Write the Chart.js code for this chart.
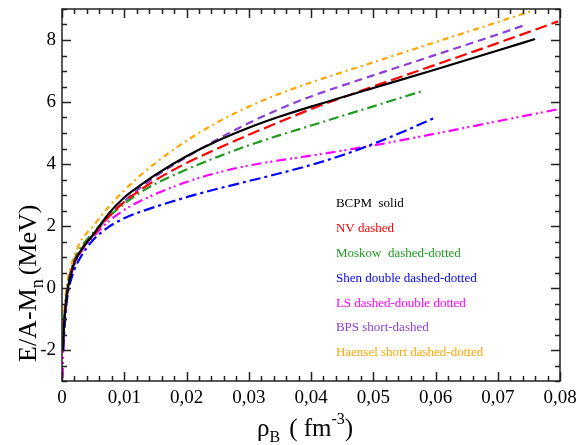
<!DOCTYPE html>
<html>
<head>
<meta charset="utf-8">
<script src="https://cdn.jsdelivr.net/npm/chart.js@4/dist/chart.umd.min.js"></script>
<style>
  html, body { margin: 0; padding: 0; background: #fff; }
  #wrap { width: 580px; height: 445px; position: relative; }
</style>
</head>
<body>
<div id="wrap"><canvas id="c" width="580" height="445"></canvas></div>
<script>
// ---- Data ----
const rhoBCPM = [0.00012, 0.0003, 0.0006, 0.001, 0.0015, 0.002, 0.003, 0.005, 0.0075, 0.01, 0.0125, 0.015, 0.02, 0.025, 0.03, 0.035, 0.04, 0.05, 0.06, 0.07, 0.076];
const eBCPM   = [-2.0, -1.3, -0.55, 0.05, 0.5, 0.82, 1.2, 1.72, 2.4, 2.92, 3.3, 3.65, 4.25, 4.75, 5.17, 5.53, 5.85, 6.45, 7.05, 7.66, 8.03];

const rhoNV = [0.00012, 0.0003, 0.0006, 0.001, 0.0015, 0.002, 0.003, 0.005, 0.0075, 0.01, 0.0125, 0.015, 0.02, 0.025, 0.03, 0.035, 0.04, 0.05, 0.06, 0.07, 0.0797];
const eNV   = [-1.9, -1.2, -0.5, 0.1, 0.55, 0.85, 1.22, 1.7, 2.3, 2.78, 3.15, 3.48, 4.03, 4.5, 4.94, 5.36, 5.77, 6.5, 7.2, 7.9, 8.6];

const rhoMoskow = [0.00015, 0.0003, 0.0006, 0.001, 0.0015, 0.002, 0.003, 0.005, 0.0075, 0.01, 0.0125, 0.015, 0.02, 0.025, 0.03, 0.035, 0.04, 0.045, 0.05, 0.058];
const eMoskow   = [-1.7, -1.1, -0.4, 0.2, 0.62, 0.92, 1.3, 1.78, 2.3, 2.72, 3.07, 3.36, 3.82, 4.23, 4.6, 4.93, 5.24, 5.55, 5.86, 6.36];

const rhoShen = [0.0002, 0.0004, 0.0007, 0.001, 0.0015, 0.002, 0.003, 0.005, 0.0075, 0.01, 0.0125, 0.015, 0.02, 0.025, 0.03, 0.035, 0.04, 0.045, 0.05, 0.055, 0.06];
const eShen   = [-2.0, -1.3, -0.55, -0.1, 0.3, 0.6, 1.0, 1.55, 1.97, 2.25, 2.45, 2.62, 2.93, 3.2, 3.45, 3.7, 3.97, 4.28, 4.65, 5.06, 5.5];

const rhoLS = [0.0001, 0.0002, 0.0004, 0.0007, 0.001, 0.0015, 0.002, 0.003, 0.005, 0.0075, 0.01, 0.0125, 0.015, 0.02, 0.025, 0.03, 0.035, 0.04, 0.05, 0.06, 0.07, 0.08];
const eLS   = [-2.9, -2.0, -1.1, -0.35, 0.05, 0.45, 0.75, 1.15, 1.65, 2.15, 2.52, 2.8, 3.03, 3.42, 3.72, 3.95, 4.12, 4.27, 4.6, 4.98, 5.38, 5.78];

const rhoBPS = [0.00013, 0.0003, 0.0006, 0.001, 0.0015, 0.002, 0.003, 0.005, 0.0075, 0.01, 0.0125, 0.015, 0.02, 0.025, 0.03, 0.035, 0.04, 0.05, 0.06, 0.07, 0.0746];
const eBPS   = [-2.0, -1.3, -0.55, 0.05, 0.5, 0.8, 1.18, 1.7, 2.3, 2.8, 3.22, 3.6, 4.22, 4.8, 5.32, 5.78, 6.18, 6.86, 7.52, 8.18, 8.5];

const rhoHaensel = [0.0001, 0.0003, 0.0006, 0.001, 0.0015, 0.002, 0.003, 0.005, 0.0075, 0.01, 0.0125, 0.015, 0.02, 0.025, 0.03, 0.035, 0.04, 0.05, 0.06, 0.07, 0.0757];
const eHaensel   = [-1.8, -1.0, -0.2, 0.35, 0.75, 1.05, 1.5, 2.0, 2.62, 3.15, 3.62, 4.03, 4.75, 5.35, 5.85, 6.27, 6.63, 7.28, 7.93, 8.58, 8.95];

const seriesNames = ["BCPM  solid", "NV dashed", "Moskow  dashed-dotted", "Shen double dashed-dotted", "LS dashed-double dotted", "BPS short-dashed", "Haensel short dashed-dotted"];

const xTickValues = [0, 0.01, 0.02, 0.03, 0.04, 0.05, 0.06, 0.07, 0.08];
const xTickLabels = ["0", "0,01", "0,02", "0,03", "0,04", "0,05", "0,06", "0,07", "0,08"];
const yTickValues = [-2, 0, 2, 4, 6, 8];
const yTickLabels = ["-2", "0", "2", "4", "6", "8"];

// ---- Styles ----
const colors = ["#000000", "#ff0000", "#1f9a1f", "#0000ff", "#ff00ff", "#8c3fd6", "#ffa500"];
const dashes = [[], [12, 5], [10, 4, 2, 4], [11, 4, 3, 4], [10, 4, 2, 3, 2, 4], [8, 5], [6, 4, 2, 4]];
const serif = "'Liberation Serif', 'Times New Roman', serif";

const rhoSets = [rhoBCPM, rhoNV, rhoMoskow, rhoShen, rhoLS, rhoBPS, rhoHaensel];
const eSets = [eBCPM, eNV, eMoskow, eShen, eLS, eBPS, eHaensel];

const datasets = rhoSets.map((rho, i) => ({
  label: seriesNames[i],
  data: rho.map((r, k) => ({ x: r, y: eSets[i][k] })),
  borderColor: colors[i],
  backgroundColor: colors[i],
  borderWidth: 2.2,
  borderDash: dashes[i],
  pointRadius: 0,
  showLine: true,
  fill: false,
  cubicInterpolationMode: 'monotone'
}));

// Inner ticks, frame, legend text and axis titles
const decorPlugin = {
  id: 'decor',
  afterDraw(chart) {
    const ctx = chart.ctx;
    const a = chart.chartArea;
    const xs = chart.scales.x, ys = chart.scales.y;
    ctx.save();
    ctx.strokeStyle = '#222';
    ctx.lineWidth = 1.5;
    for (let k = 0; k <= 40; k++) {
      const v = k * 0.002;
      const px = Math.round(xs.getPixelForValue(v)) + 0.5;
      const len = (k % 5 === 0) ? 9 : 5;
      ctx.beginPath();
      ctx.moveTo(px, a.bottom); ctx.lineTo(px, a.bottom - len);
      ctx.moveTo(px, a.top); ctx.lineTo(px, a.top + len);
      ctx.stroke();
    }
    for (let k = 0; k <= 24; k++) {
      const v = -3 + k * 0.5;
      const py = Math.round(ys.getPixelForValue(v)) + 0.5;
      const len = (Math.abs(v % 2) < 1e-9) ? 9 : 5;
      ctx.beginPath();
      ctx.moveTo(a.left, py); ctx.lineTo(a.left + len, py);
      ctx.moveTo(a.right, py); ctx.lineTo(a.right - len, py);
      ctx.stroke();
    }
    ctx.strokeRect(a.left, a.top, a.right - a.left, a.bottom - a.top);

    // legend text
    ctx.font = "13px " + serif;
    ctx.textBaseline = 'middle';
    ctx.textAlign = 'left';
    const lx = a.left + (a.right - a.left) * 0.55;
    seriesNames.forEach((n, i) => {
      ctx.fillStyle = colors[i];
      ctx.fillText(n, lx, 204 + i * 24.8);
    });

    // x title: rho_B ( fm^-3)
    ctx.fillStyle = '#000';
    ctx.textBaseline = 'alphabetic';
    let x = 257, y = 436;
    ctx.font = "25px " + serif;
    ctx.fillText('\u03C1', x, y); x += ctx.measureText('\u03C1').width;
    ctx.font = "16px " + serif;
    ctx.fillText('B', x, y + 6); x += ctx.measureText('B').width + 9;
    ctx.font = "25px " + serif;
    ctx.fillText('( fm', x, y); x += ctx.measureText('( fm').width;
    ctx.font = "16px " + serif;
    ctx.fillText('-3', x, y - 12); x += ctx.measureText('-3').width;
    ctx.font = "25px " + serif;
    ctx.fillText(')', x, y);

    // y title: E/A-M_n (MeV), rotated
    ctx.translate(36, 362);
    ctx.rotate(-Math.PI / 2);
    x = 0; y = 0;
    ctx.font = "26px " + serif;
    ctx.fillText('E/A-M', x, y); x += ctx.measureText('E/A-M').width;
    ctx.font = "18px " + serif;
    ctx.fillText('n', x, y + 7); x += ctx.measureText('n').width + 4;
    ctx.font = "26px " + serif;
    ctx.fillText('(MeV)', x, y);
    ctx.restore();
  }
};

new Chart(document.getElementById('c'), {
  type: 'scatter',
  data: { datasets },
  options: {
    responsive: false,
    animation: false,
    devicePixelRatio: 1,
    layout: { padding: { left: 0, right: 20, top: 9, bottom: 0 } },
    plugins: { legend: { display: false }, tooltip: { enabled: false } },
    scales: {
      x: {
        type: 'linear', min: 0, max: 0.08,
        afterBuildTicks(s) { s.ticks = xTickValues.map(v => ({ value: v })); },
        afterFit(s) { s.height = 64; s.paddingLeft = 0; s.paddingRight = 0; },
        grid: { display: false, drawTicks: false },
        border: { display: false },
        ticks: {
          padding: 6, color: '#000', maxRotation: 0, autoSkip: false,
          font: { family: serif, size: 19 },
          callback: (v, idx) => xTickLabels[idx]
        }
      },
      y: {
        type: 'linear', min: -3, max: 9,
        afterBuildTicks(s) { s.ticks = yTickValues.map(v => ({ value: v })); },
        afterFit(s) { s.width = 62; s.paddingTop = 0; s.paddingBottom = 0; },
        grid: { display: false, drawTicks: false },
        border: { display: false },
        ticks: {
          padding: 6, color: '#000', autoSkip: false,
          font: { family: serif, size: 19 },
          callback: (v, idx) => yTickLabels[idx]
        }
      }
    }
  },
  plugins: [decorPlugin]
});
</script>
</body>
</html>
